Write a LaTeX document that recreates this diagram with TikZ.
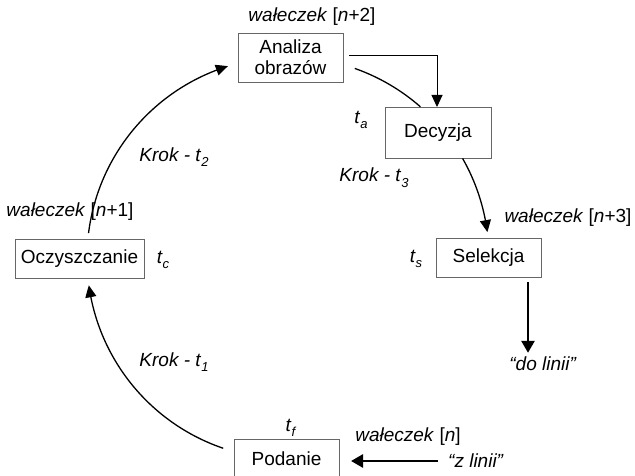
\documentclass[tikz,border=0pt]{standalone}
\usepackage{fontspec}
\setmainfont{Liberation Sans}
\usetikzlibrary{arrows.meta,bending,calc}
\newcommand\tsb[1]{\textit{t}\raisebox{-0.3em}{\fontsize{13}{13}\selectfont\textit{#1}}}
\newcommand\wal[1]{\textit{wałeczek} [\textit{n}#1]}
\begin{document}
\begin{tikzpicture}[x=1pt,y=-1pt,font=\fontsize{19}{21}\selectfont,
  box/.style={draw=black!60,line width=0.9pt,inner sep=0pt,outer sep=0pt,align=center},
  lbl/.style={inner sep=0pt},
  cyc/.style={line width=1.3pt},
  cycarr/.style={cyc,-{Triangle[length=12pt,width=11pt,bend]}},
  thinarr/.style={line width=0.9pt,-{Triangle[length=12pt,width=11pt]}},
  thickarr/.style={line width=2.6pt,-{Triangle[length=12pt,width=13pt]}}]
\useasboundingbox (0,0) rectangle (635,476);
% boxes
\node[box,minimum width=105pt,minimum height=49pt] (ana) at (290.5,57.5) {Analiza\\obrazów};
\node[box,minimum width=106pt,minimum height=51pt] (dec) at (438,132.5) {Decyzja};
\node[box,minimum width=105pt,minimum height=39pt] (sel) at (488.5,257.5) {Selekcja};
\node[box,minimum width=129pt,minimum height=39pt] (ocz) at (79.5,258.5) {Oczyszczanie};
\node[box,minimum width=105pt,minimum height=39pt] (pod) at (286.5,458.5) {Podanie};
% labels
\node[lbl] (w2) at (312,17) {\wal{+2}};
\node[lbl] (ta) at (361,120) {\tsb{a}};
\node[lbl] (k3) at (374,178) {\textit{Krok -} \tsb{3}};
\node[lbl] (w3) at (568,218) {\wal{+3}};
\node[lbl] (ts) at (416,259) {\tsb{s}};
\node[lbl] (w1) at (70,212) {\wal{+1}};
\node[lbl] (tc) at (163,260) {\tsb{c}};
\node[lbl] (k2) at (174,157) {\textit{Krok -} \tsb{2}};
\node[lbl] (k1) at (174,362) {\textit{Krok -} \tsb{1}};
\node[lbl] (tf) at (291,428) {\tsb{f}};
\node[lbl] (w0) at (408,437) {\textit{wałeczek} [\textit{n}]};
\node[lbl] (zl) at (476,461) {\textit{“z linii”}};
\node[lbl] (dl) at (543,364) {\textit{“do linii”}};
% cycle arcs
\coordinate (c) at (288,258);
\coordinate (o1) at ($(c)+(-172.9:201)$);
\coordinate (p1) at ($(c)+(108.8:201)$);
\coordinate (a1) at ($(c)+(-70.6:201)$);
\coordinate (d1) at ($(c)+(-29.7:201)$);
\draw[cycarr] (o1) arc[start angle=-172.9,end angle=-107.4,radius=201];
\draw[cycarr] (p1) arc[start angle=108.8,end angle=172.2,radius=201];
\draw[cyc] (a1) arc[start angle=-70.6,end angle=-48.8,radius=201];
\draw[cycarr] (d1) arc[start angle=-29.7,end angle=-7.4,radius=201];
% thin orthogonal connector
\coordinate (k) at (437,55);
\draw[thinarr] ([xshift=6pt]ana.east |- k) -| (k |- dec.north);
% thick in/out arrows
\draw[thickarr,shorten <=10pt,shorten >=12pt] (zl.west) -- (zl.west -| pod.east);
\draw[thickarr,shorten <=5pt,shorten >=4pt] (sel.south -| 528,0) -- (dl.north -| 528,0);
\end{tikzpicture}
\end{document}
